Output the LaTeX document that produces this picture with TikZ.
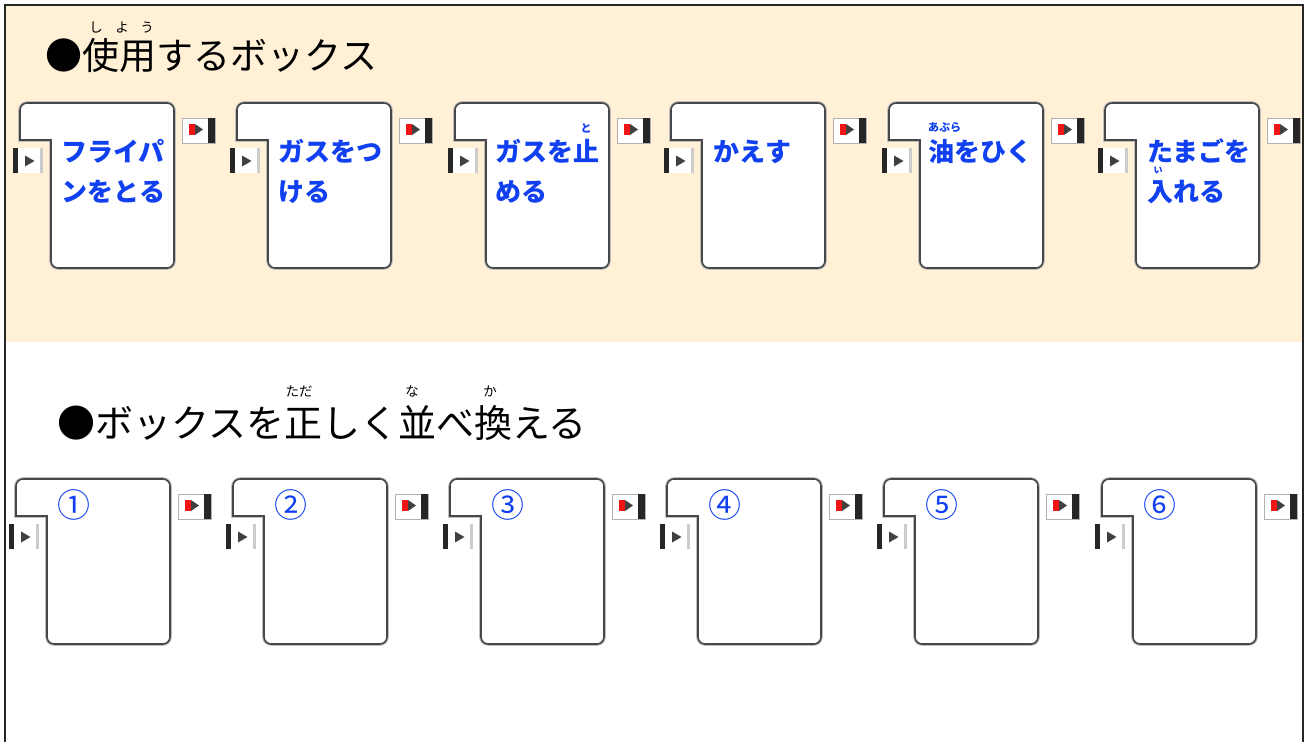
\documentclass[tikz,border=0pt]{standalone}
\usepackage{fontspec}
\newfontfamily\jp{Noto Sans CJK JP}
\definecolor{beige}{RGB}{255,240,214}
\definecolor{txtblue}{RGB}{16,64,240}
\definecolor{tabred}{RGB}{240,20,20}
\tikzset{
  boxshadow/.style={draw=black!25, line width=3.6pt},
  boxshape/.style={fill=white, draw=black!72, line width=1.6pt},
  boxlabel/.style={anchor=base west, inner sep=0pt, text=txtblue,
    font=\jp\bfseries\fontsize{26}{30}\selectfont},
  ruby/.style={inner sep=0pt, text=txtblue, font=\jp\bfseries\fontsize{11}{12}\selectfont},
  titlestyle/.style={anchor=base west, inner sep=0pt, text=black,
    font=\jp\fontsize{37}{40}\selectfont},
  titleruby/.style={inner sep=0pt, text=black, font=\jp\fontsize{13.5}{14}\selectfont},
  numstyle/.style={inner sep=0pt, text=txtblue, font=\jp\fontsize{33}{34}\selectfont},
}
\newcommand\boxoutline{(7,0) -- (147,0) arc[start angle=270, end angle=360, radius=7]
  -- (154,158) arc[start angle=0, end angle=90, radius=7]
  -- (38,165) arc[start angle=90, end angle=180, radius=7]
  -- (31,37) -- (0,37) -- (0,7) arc[start angle=180, end angle=270, radius=7] -- cycle}
\newcommand\blockbox[3]{%
  \begin{scope}[shift={(#2,#3)}]
    \draw[boxshadow] \boxoutline;
    \draw[boxshape] \boxoutline;
    \fill[white] (-7,45) rectangle (23,70);
    \fill[black!20] (20,45) rectangle (23,70);
    \fill[black!85] (-7,45) rectangle (-2,70);
    \fill[black!75] (5,52.5) -- (5,63.5) -- (14.5,58) -- cycle;
    \filldraw[fill=white, draw=black!30, line width=0.8pt] (162,15) rectangle (195,40);
    \fill[black!85] (188,15) rectangle (195,40);
    \fill[tabred] (169,21) rectangle (175,32);
    \fill[black!75] (175,21) -- (175,32) -- (183,26.5) -- cycle;
    \coordinate (#1) at (0,0);
  \end{scope}}
\begin{document}
\begin{tikzpicture}[x=1pt,y=-1pt]
\useasboundingbox (0,0) rectangle (1309,742);
\fill[beige] (5,5) rectangle (1303,342);
\draw[line width=2pt, black!85] (5,742) -- (5,5) -- (1303,5) -- (1303,742);

% titles
\node[titlestyle] (t1) at (45,69) {●使用するボックス};
\node[titleruby] (r1a) at (96,28) {し};
\node[titleruby] (r1b) at (122,28) {よ};
\node[titleruby] (r1c) at (147,28) {う};

\node[titlestyle, font=\jp\fontsize{38}{40}\selectfont] (t2) at (57,437) {●ボックスを正しく並べ換える};
\node[titleruby] (r2a) at (299,391) {ただ};
\node[titleruby] (r2b) at (412,391) {な};
\node[titleruby] (r2c) at (490,391) {か};

% top row
\blockbox{b1}{20}{103}
\blockbox{b2}{237}{103}
\blockbox{b3}{455}{103}
\blockbox{b4}{671}{103}
\blockbox{b5}{889}{103}
\blockbox{b6}{1105}{103}

\node[boxlabel] (l1a) at (61,161) {フライパ};
\node[boxlabel] (l1b) at (61,201) {ンをとる};
\node[boxlabel] (l2a) at (278,161) {ガスをつ};
\node[boxlabel] (l2b) at (278,201) {ける};
\node[boxlabel] (l3a) at (495,161) {ガスを止};
\node[boxlabel] (l3b) at (495,201) {める};
\node[ruby] (l3r) at (586,128) {と};
\node[boxlabel] (l4a) at (713,161) {かえす};
\node[boxlabel] (l5a) at (928,161) {油をひく};
\node[ruby, anchor=west] (l5r) at (928,128) {あぶら};
\node[boxlabel] (l6a) at (1147,161) {たまごを};
\node[boxlabel] (l6b) at (1147,201) {入れる};
\node[ruby, font=\jp\bfseries\fontsize{9}{10}\selectfont] (l6r) at (1158,170) {い};

% bottom row
\blockbox{c1}{16}{479}
\blockbox{c2}{233}{479}
\blockbox{c3}{450}{479}
\blockbox{c4}{667}{479}
\blockbox{c5}{884}{479}
\blockbox{c6}{1102}{479}

\node[numstyle] (n1) at (74,505) {①};
\node[numstyle] (n2) at (291,505) {②};
\node[numstyle] (n3) at (508,505) {③};
\node[numstyle] (n4) at (725,505) {④};
\node[numstyle] (n5) at (942,505) {⑤};
\node[numstyle] (n6) at (1160,505) {⑥};
\end{tikzpicture}
\end{document}
